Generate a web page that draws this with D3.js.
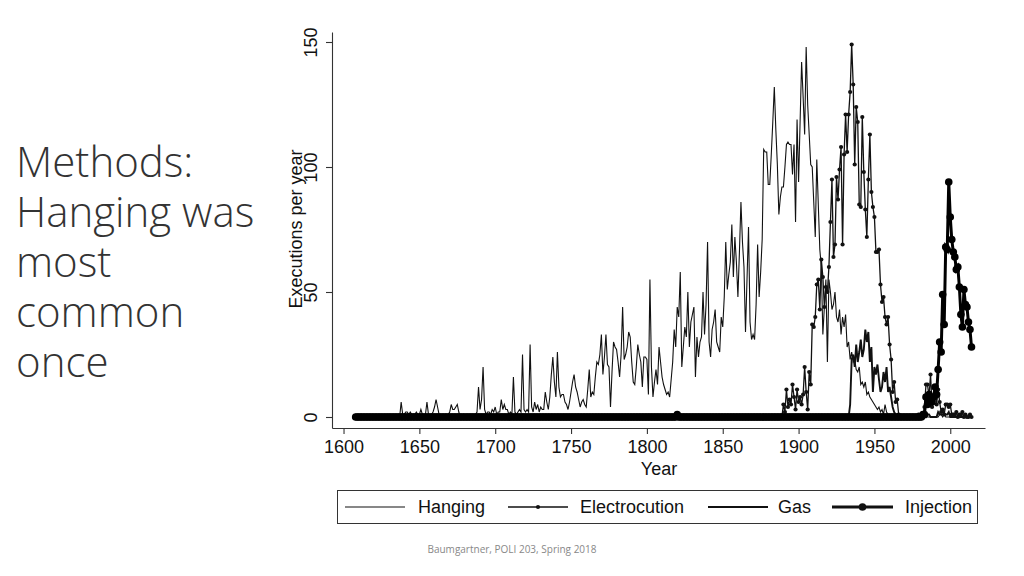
<!DOCTYPE html>
<html><head><meta charset="utf-8">
<script src="https://cdn.jsdelivr.net/npm/d3@7"></script>
<style>body{margin:0;background:#fff}svg{display:block}</style>
</head><body><svg id="c" width="1024" height="576"></svg>
<script>
const firstYear = 1608, lastYear = 2014;
// Hanging 1608-2014
const hanging = [
1,0,
0,0,1,0,0,0,0,0,0,0,
0,0,1,0,1,0,0,0,0,0,
1,0,0,0,0,0,1,0,6,1,
1,2,2,1,2,1,0,1,2,1,
1,3,1,0,1,6,1,0,1,2,
4,7,4,1,0,0,0,1,0,1,
2,5,3,3,4,5,2,0,0,1,
0,0,1,0,1,0,1,1,2,12,
3,7,20,3,1,2,2,1,3,2,
4,1,2,2,7,3,5,3,3,1,
2,1,16,2,1,2,3,2,25,3,
2,3,2,29,4,2,6,3,5,2,
4,3,3,10,6,3,8,17,24,14,
8,26,12,8,9,9,6,5,3,6,
10,14,17,12,10,7,4,6,7,5,
4,11,19,8,10,9,16,22,21,25,
33,17,24,33,21,20,4,18,30,28,
27,22,16,25,44,23,25,28,34,32,
22,14,13,20,29,25,22,12,24,24,
23,9,55,20,8,14,19,13,28,22,
16,13,11,9,10,8,15,22,35,28,
44,40,58,20,28,36,32,50,28,38,
41,44,16,32,24,30,32,50,33,45,
70,30,24,35,38,43,30,28,26,40,
36,48,70,51,57,62,77,56,72,62,
48,66,86,70,60,34,55,76,38,31,
33,31,45,69,48,58,71,107,106,106,
93,93,105,118,132,115,101,81,88,92,
92,100,109,110,109,109,97,109,78,119,
94,118,142,128,113,148,125,113,101,100,
86,72,103,85,67,60,33,44,55,22,
55,50,43,45,50,40,38,43,33,40,
36,41,28,30,23,26,22,23,19,18,
20,13,14,12,14,9,10,8,7,6,
5,4,3,4,2,3,1,5,2,1,
1,0,1,1,0,1,0,0,0,0,
0,0,0,0,0,0,0,0,0,0,
0,0,0,0,0,0,0,0,0,0,
0,0,0,1,1,0,1,0,0,0,
0,0,0,0,0,0,0,0,0,0,
0,0,0,0,0];
// Electrocution 1889-2014 (zero before)
const electrocutionStart = 1889;
const electrocution = [
0,
5,2,11,4,7,5,13,8,3,11,
6,8,5,9,20,10,3,18,13,37,
36,40,53,55,43,63,56,44,52,50,
60,78,95,64,69,96,87,99,108,69,
105,121,106,121,130,149,133,101,124,118,
85,84,120,98,83,72,95,113,90,84,
80,66,66,67,53,46,48,40,37,40,
29,23,10,14,6,7,1,0,0,0,
0,0,0,0,0,0,0,0,0,1,
0,0,0,4,13,13,8,17,4,8,
9,5,11,6,2,3,1,5,5,4,
5,1,1,1,2,0,1,1,2,0,
1,0,0,1,0];
// Gas 1930-2014 (zero before)
const gasStart = 1930;
const gas = [
0,0,0,0,5,23,25,20,29,22,
26,31,24,27,35,30,34,22,28,10,
20,17,21,15,10,12,18,14,20,10,
12,8,4,2,1,0,0,0,0,0,
0,0,0,0,0,0,0,0,0,1,
0,0,0,1,0,1,1,0,0,0,
0,0,2,1,1,1,1,1,1,2,
0,0,0,0,0,0,0,0,0,0,
0,0,0,0,0];
// Injection 1982-2014 (zero before, except one early record)
const injectionStart = 1982;
const injection = [1,1,8,5,9,7,6,8,12,9,
19,30,26,49,37,68,67,94,80,71,
66,64,59,60,52,41,36,51,45,44,38,35,28];
const injectionEarlyYears = [1820];
const injectionEarlyValues = [1];

const xTicks = [1600,1650,1700,1750,1800,1850,1900,1950,2000];
const yTicks = [0,50,100,150];
const legendLabels = ["Hanging","Electrocution","Gas","Injection"];
const titleLines = ["Methods:","Hanging was","most","common","once"];
const footer = "Baumgartner, POLI 203, Spring 2018";

const years = d3.range(firstYear, lastYear + 1);
function series(start, arr, extraYears, extraVals) {
  return years.map(yr => {
    let v = 0;
    if (yr >= start && yr - start < arr.length) v = arr[yr - start];
    if (extraYears) { const i = extraYears.indexOf(yr); if (i >= 0) v = extraVals[i]; }
    return {year: yr, value: v};
  });
}
const sHang = series(firstYear, hanging);
const sElec = series(electrocutionStart, electrocution);
const sGas = series(gasStart, gas);
const sInj = series(injectionStart, injection, injectionEarlyYears, injectionEarlyValues);

const svg = d3.select("#c");
const FONT = "'Liberation Sans', Arial, Helvetica, sans-serif";
const FS = 18;

// Left title
const tt = svg.append("text").attr("font-family","'Open Sans', sans-serif").attr("font-size",42)
  .attr("font-weight",300).attr("fill","#333");
titleLines.forEach((t,i) => tt.append("tspan").attr("x",16).attr("y",177 + i*50).text(t));

// footer
svg.append("text").attr("x",512).attr("y",553).attr("text-anchor","middle")
  .attr("font-family","'Open Sans', sans-serif").attr("font-size",10).attr("fill","#888").text(footer);

// Scales
const x = d3.scaleLinear().domain([1592.4, 2022.9]).range([332, 985]);
const y = d3.scaleLinear().domain([-4.4, 154]).range([428, 32]);

// Axes
const gx = svg.append("g").attr("transform","translate(0,428)")
  .call(d3.axisBottom(x).tickValues(xTicks).tickSize(6).tickSizeOuter(0).tickFormat(d3.format("d")));
gx.selectAll("text").attr("y",12).attr("font-size",FS).attr("font-family",FONT).attr("fill","#111");
const gy = svg.append("g").attr("transform","translate(332,0)")
  .call(d3.axisLeft(y).tickValues(yTicks).tickSize(6).tickSizeOuter(0));
gy.selectAll("text").remove();
gy.selectAll(".tick").append("text")
  .attr("transform","translate(-21,0) rotate(-90)")
  .attr("text-anchor","middle").attr("dy","0.35em")
  .attr("font-size",FS).attr("font-family",FONT).attr("fill","#111")
  .text(d => d);
svg.selectAll(".domain, .tick line").attr("stroke","#333").attr("stroke-width",1.1);

svg.append("text").attr("transform","translate(296,229) rotate(-90)")
  .attr("text-anchor","middle").attr("dy","0.35em")
  .attr("font-size",FS).attr("font-family",FONT).attr("fill","#111").text("Executions per year");
svg.append("text").attr("x",659).attr("y",475).attr("text-anchor","middle")
  .attr("font-size",FS).attr("font-family",FONT).attr("fill","#111").text("Year");

// Lines
const line = d3.line().x(d => x(d.year)).y(d => y(d.value));
const plot = svg.append("g");
plot.append("path").datum(sHang).attr("d",line).attr("fill","none").attr("stroke","#111").attr("stroke-width",1.1);
plot.append("path").datum(sElec).attr("d",line).attr("fill","none").attr("stroke","#111").attr("stroke-width",1.3);
plot.append("g").selectAll("circle").data(sElec).join("circle")
  .attr("cx",d=>x(d.year)).attr("cy",d=>y(d.value)).attr("r",2.1).attr("fill","#111");
plot.append("path").datum(sGas).attr("d",line).attr("fill","none").attr("stroke","#111").attr("stroke-width",1.9);
plot.append("path").datum(sInj).attr("d",line).attr("fill","none").attr("stroke","#000").attr("stroke-width",3);
plot.append("g").selectAll("circle").data(sInj).join("circle")
  .attr("cx",d=>x(d.year)).attr("cy",d=>y(d.value)).attr("r",3.8).attr("fill","#000");

// Legend
const lg = svg.append("g");
lg.append("rect").attr("x",337.5).attr("y",490.5).attr("width",640).attr("height",33)
  .attr("fill","#fff").attr("stroke","#333").attr("stroke-width",1);
const items = [
  {x1:345,x2:405,tx:418,w:1.1,r:0},
  {x1:508,x2:568,tx:580,w:1.3,r:2.1},
  {x1:708,x2:768,tx:778,w:1.9,r:0},
  {x1:832,x2:893,tx:905,w:3,r:3.8}
];
items.forEach((it,i) => {
  lg.append("line").attr("x1",it.x1).attr("x2",it.x2).attr("y1",507).attr("y2",507)
    .attr("stroke","#111").attr("stroke-width",it.w);
  if (it.r) lg.append("circle").attr("cx",(it.x1+it.x2)/2).attr("cy",507).attr("r",it.r).attr("fill","#111");
  lg.append("text").attr("x",it.tx).attr("y",507).attr("dy","0.35em")
    .attr("font-size",FS).attr("font-family",FONT).attr("fill","#111").text(legendLabels[i]);
});
</script></body></html>
